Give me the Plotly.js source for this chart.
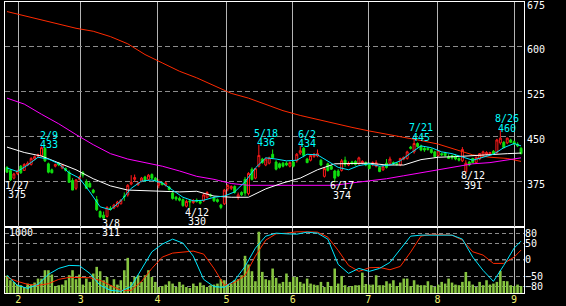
<!DOCTYPE html>
<html><head><meta charset="utf-8">
<script src="https://cdn.plot.ly/plotly-3.0.1.min.js"></script>
<style>html,body{margin:0;padding:0;background:#000;overflow:hidden}#chart{width:566px;height:306px}</style>
</head><body><div id="chart"></div>
<script>
// ---- price candles (trading-day index 0..149) ----
const opens = [398,393,380,388,400,393,402,403,412,417, 418,430,404,394,400,405,397,396,390,376, 363,378,389,374,371,360,344,324,318,316, 330,330,333,337,350,352,370,378,369,375, 382,378,386,380,368,372,368,365,355,348, 346,344,333,342,339,343,341,342,348,352, 347,344,335,337,362,363,366,348,356,378, 354,395,380,400,412,402,405,420,407,404, 405,405,400,407,409,422,430,412,410,416, 417,410,383,404,400,392,392,393,410,402, 407,408,404,405,406,403,402,400,398,394, 405,404,406,405,402,412,413,432,424,438, 434,430,430,428,424,418,421,422,416,418, 417,413,409,391,407,413,406,412,419,420, 420,425,423,439,440,439,444,441,437,430];
const highs = [400,395,389,394,402,405,408,415,418,421, 433,432,406,396,404,407,402,398,393,380, 378,384,392,378,374,362,350,326,324,333, 333,337,342,345,356,370,385,386,374,382, 384,387,388,382,378,374,374,367,357,350, 349,346,344,344,345,346,343,355,358,354, 349,346,337,362,370,368,368,356,358,382, 390,398,397,436,414,414,416,428,410,406, 407,408,408,409,422,434,432,414,420,422, 428,412,398,406,402,394,395,412,416,408, 409,410,416,410,408,405,408,410,400,402, 412,416,408,407,414,416,426,434,445,440, 436,432,432,430,426,427,423,424,420,419, 420,415,432,410,409,414,416,422,426,425, 424,427,446,460,442,448,446,443,440,432];
const lows = [389,375,378,385,387,392,400,401,410,414, 416,407,388,388,398,400,395,391,372,360, 360,376,381,362,364,354,325,313,311,314, 326,328,331,336,342,349,368,374,367,373, 374,376,378,374,363,368,366,359,344,342, 341,332,331,330,337,339,336,340,346,348, 340,339,328,335,358,360,354,344,350,350, 351,376,378,398,404,400,403,412,393,396, 398,400,398,398,406,419,415,405,408,414, 415,400,381,391,394,374,382,391,399,400, 403,401,402,403,400,395,400,398,390,392, 396,402,402,401,400,410,411,428,421,431, 425,424,426,421,414,416,417,416,412,411, 410,408,407,391,400,405,404,410,417,418, 419,420,421,436,430,437,439,436,432,420];
const closes = [390,377,387,392,389,403,405,413,416,419, 431,409,390,389,403,402,402,393,373,360, 377,381,385,363,365,356,327,315,313,331, 328,335,340,343,349,368,373,381,372,380, 376,385,380,376,372,369,372,361,346,345, 343,334,341,340,342,341,338,352,356,350, 342,341,331,360,368,366,356,352,352,355, 388,378,396,418,406,412,414,414,395,398, 400,402,406,400,420,426,418,406,418,420, 421,402,396,393,395,380,384,409,403,405, 404,403,414,408,402,396,406,406,391,399, 398,412,404,403,413,415,424,430,438,433, 427,427,428,423,416,426,419,418,413,414, 412,410,428,405,402,406,415,421,424,423, 423,421,444,447,431,447,440,437,434,421];
const volumes = [290,213,185,140,130,100,157,140,174,241, 240,380,380,308,117,130,140,213,296,380, 230,308,140,241,185,325,436,363,213,268, 130,230,140,213,380,586,185,268,296,185, 296,380,268,185,100,117,140,196,157,100, 185,140,100,84,157,117,174,130,100,130, 140,157,230,213,140,157,213,230,296,620, 476,363,196,1022,352,230,213,408,252,157, 185,325,185,268,268,185,157,241,157,140, 130,185,100,185,117,408,157,285,130,100, 117,130,130,340,150,140,140,296,130,130, 196,157,213,117,174,241,241,117,213,140, 130,130,196,130,100,140,185,157,241,174, 140,130,185,350,196,140,100,185,130,213, 140,157,185,370,200,196,130,117,140,117];

// ---- moving averages ----
const shortIdx = [0,3,6,9,12,15,18,21,24,27,30,33,36,39,42,45,48,51,54,57,60,63,66,69,72,75,78,81,84,87,90,93,96,99,102,105,108,111,114,117,120,123,126,129,132,135,138,141,144,147,149];
const maShort = [397,391,402,415,412,404,389,380,357,332,327,342,363,375,377,372,360,348,342,343,348,350,357,374,397,414,412,409,410,420,419,409,398,394,401,404,400,402,409,422,434,431,424,421,415,410,415,420,431,438,434];
const longIdx = [0,5,10,15,20,25,30,35,40,45,50,55,60,65,70,75,80,85,90,95,100,105,110,115,120,125,130,135,140,145,149];
const maMid = [432,423,417,406,394,379,367,360,359,357,357,358,350,348,348,362,372,380,394,404,405,405,402,402,411,415,416,418,420,421,422];
const maLong = [514,504,487,471,453,436,421,412,406,400,392,383,378,371,368,368,368,368,368,368,372,375,379,384,389,393,398,404,406,410,414];
const maVeryLong = [659,652,645,637,631,626,617,605,587,573,559,548,535,522,514,504,493,485,478,472,465,459,454,449,443,437,428,419,415,413,408];

// ---- oscillator (same sampling as short MA) ----
const oscFast = [-47,-77,-86,-74,-44,-26,-17,-18,-41,-77,-92,-95,-80,-26,24,47,62,50,11,-59,-81,-83,-62,-20,35,71,80,78,77,83,80,62,-14,-41,-26,-35,-26,-8,32,71,74,74,74,74,62,8,-32,-65,-17,35,56];
const oscSlow = [-53,-65,-74,-77,-72,-59,-53,-53,-54,-62,-77,-92,-92,-65,-26,8,20,23,26,17,-26,-77,-68,-47,11,59,78,80,84,84,83,68,28,-17,-35,-24,-23,-30,-20,23,71,77,75,74,59,24,14,-11,-11,8,29];

// ---- axis labels ----
const monthIdx = [3.3,21.4,43.6,63.6,82.8,104.7,124.8,147.0];
const monthLabels = ['2','3','4','5','6','7','8','9'];
const priceTicks = [375,450,525,600,675];
const oscTicks = [80,50,0,-50,-80];
const volLabel = '1000';
const volLabelValue = 1000;

// ---- high / low markers ----
const highIdx = [10,73,85,118,143];
const highDates = ['2/9','5/18','6/2','7/21','8/26'];
const highVals = [433,436,434,445,460];
const lowIdx = [1,28,53,95,133];
const lowDates = ['1/27','3/8','4/12','6/17','8/12'];
const lowVals = [375,311,330,374,391];

const idx = opens.map((_, i) => i);
const FONT = 'DejaVu Sans Mono, monospace';
const XR = [-0.58, 149.86];

const traces = [
  {type:'bar', x: idx, y: volumes, xaxis:'x', yaxis:'y2', marker:{color:'#86c440', line:{width:0}}, hoverinfo:'skip'},
  {type:'scatter', mode:'lines', x: shortIdx, y: oscSlow, xaxis:'x', yaxis:'y3', line:{color:'#ff2a00', width:1}, hoverinfo:'skip'},
  {type:'scatter', mode:'lines', x: shortIdx, y: oscFast, xaxis:'x', yaxis:'y3', line:{color:'#00e8ff', width:1}, hoverinfo:'skip'},
  {type:'candlestick', x: idx, open: opens, high: highs, low: lows, close: closes, xaxis:'x2', yaxis:'y',
   increasing:{line:{color:'#ff1a1a', width:1}, fillcolor:'#000000'},
   decreasing:{line:{color:'#10e010', width:1}, fillcolor:'#10e010'}, whiskerwidth:0, hoverinfo:'skip'},
  {type:'scatter', mode:'lines', x: longIdx, y: maVeryLong, xaxis:'x2', yaxis:'y', line:{color:'#ff2a00', width:1}, hoverinfo:'skip'},
  {type:'scatter', mode:'lines', x: longIdx, y: maLong, xaxis:'x2', yaxis:'y', line:{color:'#ff00ff', width:1}, hoverinfo:'skip'},
  {type:'scatter', mode:'lines', x: longIdx, y: maMid, xaxis:'x2', yaxis:'y', line:{color:'#ffffff', width:1}, hoverinfo:'skip'},
  {type:'scatter', mode:'lines', x: shortIdx, y: maShort, xaxis:'x2', yaxis:'y', line:{color:'#00e8ff', width:1}, hoverinfo:'skip'}
];

const annotations = [];
highIdx.forEach((k, j) => {
  annotations.push({x:k, y:highVals[j], xref:'x2', yref:'y', text:highDates[j], showarrow:false, xanchor:'center', yanchor:'middle', xshift:7, yshift:11.5, font:{family:FONT, size:10, color:'#00ffff'}});
  annotations.push({x:k, y:highVals[j], xref:'x2', yref:'y', text:String(highVals[j]), showarrow:false, xanchor:'center', yanchor:'middle', xshift:7, yshift:2, font:{family:FONT, size:10, color:'#00ffff'}});
});
lowIdx.forEach((k, j) => {
  annotations.push({x:k, y:lowVals[j], xref:'x2', yref:'y', text:lowDates[j], showarrow:false, xanchor:'center', yanchor:'middle', xshift:7, yshift:-4, font:{family:FONT, size:10, color:'#ffffff'}});
  annotations.push({x:k, y:lowVals[j], xref:'x2', yref:'y', text:String(lowVals[j]), showarrow:false, xanchor:'center', yanchor:'middle', xshift:7, yshift:-13.5, font:{family:FONT, size:10, color:'#ffffff'}});
});
annotations.push({x:0, y:volLabelValue, xref:'paper', yref:'y2', text:volLabel, showarrow:false, xanchor:'left', yanchor:'middle', xshift:2, yshift:1, font:{family:FONT, size:10, color:'#ffffff'}});

const layout = {
  width:566, height:306,
  paper_bgcolor:'#000000', plot_bgcolor:'#000000',
  margin:{l:5, r:42, t:2, b:13, pad:0},
  showlegend:false,
  font:{family:FONT, size:10, color:'#ffffff'},
  boxgap:0.2, bargap:0.25,
  xaxis:{domain:[0,1], anchor:'y2', range:XR, tickmode:'array', tickvals:monthIdx, ticktext:monthLabels,
    showgrid:true, gridcolor:'#b4b4b4', gridwidth:1, zeroline:false, showline:true, mirror:true, linecolor:'#ffffff', linewidth:1,
    ticks:'', ticklabelstandoff:-3, ticklabeloverflow:'allow', tickfont:{family:FONT, size:10, color:'#f0f070'}, rangeslider:{visible:false}, fixedrange:true},
  xaxis2:{domain:[0,1], anchor:'y', range:XR, tickmode:'array', tickvals:monthIdx, showticklabels:false,
    showgrid:true, gridcolor:'#b4b4b4', gridwidth:1, zeroline:false, showline:true, mirror:true, linecolor:'#ffffff', linewidth:1,
    ticks:'', rangeslider:{visible:false}, fixedrange:true},
  yaxis:{domain:[0.2285,1], anchor:'x2', side:'right', range:[299,675], tickmode:'array', tickvals:priceTicks,
    showgrid:true, gridcolor:'#8c8c8c', gridwidth:1, griddash:'5px,3px', zeroline:false, showline:true, mirror:true,
    linecolor:'#ffffff', linewidth:1, ticks:'', ticklabelshift:3, ticklabeloverflow:'allow',
    tickfont:{family:FONT, size:10, color:'#ffffff'}, fixedrange:true},
  yaxis2:{domain:[0,0.2285], anchor:'x', range:[0,1109], showticklabels:false, showgrid:false, zeroline:false,
    showline:true, mirror:true, linecolor:'#ffffff', linewidth:1, ticks:'', fixedrange:true},
  yaxis3:{overlaying:'y2', anchor:'x', side:'right', range:[-100,100], tickmode:'array', tickvals:oscTicks,
    showgrid:true, gridcolor:'#8c8c8c', gridwidth:1, griddash:'4px,3px', zeroline:false, showline:false,
    ticks:'', ticklabeloverflow:'allow', tickfont:{family:FONT, size:10, color:'#ffffff'}, fixedrange:true},
  shapes:[{type:'line', xref:'x', yref:'y3', x0:XR[0], x1:XR[1], y0:0, y1:0, layer:'below', line:{color:'#ffffff', width:1, dash:'4px,3px'}}],
  annotations: annotations
};

Plotly.newPlot('chart', traces, layout, {staticPlot:true, displayModeBar:false});
</script>
</body></html>
